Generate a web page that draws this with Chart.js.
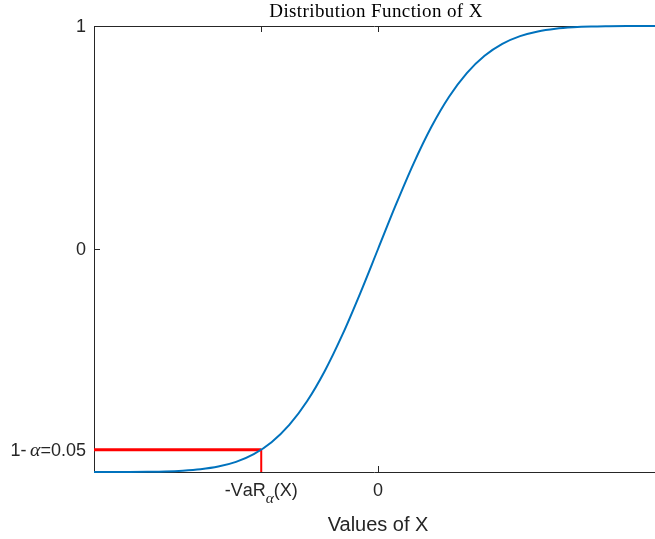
<!DOCTYPE html>
<html>
<head>
<meta charset="utf-8">
<script src="https://cdn.jsdelivr.net/npm/chart.js@4.4.1/dist/chart.umd.min.js"></script>
<style>
html,body{margin:0;padding:0;background:#fff;}
#wrap{width:655px;height:539px;}
</style>
</head>
<body>
<div id="wrap"><canvas id="c" width="655" height="539"></canvas></div>
<script>
// ---- data ----
const xValues = [-4,-3.75,-3.5,-3.25,-3,-2.75,-2.5,-2.25,-2,-1.75,-1.5,-1.25,-1,-0.75,-0.5,-0.25,0,0.25,0.5,0.75,1,1.25,1.5,1.75,2,2.25,2.5,2.75,3,3.25,3.5,3.75,4];
const cdfValues = [0.00003,0.0001,0.0002,0.0006,0.0013,0.003,0.0062,0.0122,0.0228,0.0401,0.0668,0.1056,0.1587,0.2266,0.3085,0.4013,0.5,0.5987,0.6915,0.7734,0.8413,0.8944,0.9332,0.9599,0.9772,0.9878,0.9938,0.997,0.9987,0.9994,0.9998,0.9999,1.0];
const alphaLevel = 0.05;
const varX = -1.645;
const yTickValues = [0.05, 0.5, 1];
const yTickLabels = ['1-α=0.05', '0', '1'];
const xTickValues = [varX, 0];
const xTickLabels = ['-VaR_α(X)', '0'];
const titleText = 'Distribution Function of X';
const xAxisTitle = 'Values of X';

const curve = xValues.map((x, i) => ({x: x, y: cdfValues[i]}));
const redH = [{x: xValues[0], y: alphaLevel}, {x: varX, y: alphaLevel}];
const redV = [{x: varX, y: alphaLevel}, {x: varX, y: 0}];

const AX = '#262626';
const SANS = '"Liberation Sans", Arial, Helvetica, sans-serif';
const SERIF = '"Liberation Serif", "DejaVu Serif", serif';

function segments(text, size) {
  const segs = [];
  for (let i = 0; i < text.length; i++) {
    let ch = text[i];
    let sub = false;
    if (ch === '_' && i + 1 < text.length) { sub = true; i++; ch = text[i]; }
    const greek = /[α-ω]/.test(ch);
    let s = sub ? size * 0.78 : size;
    if (greek) s *= 1.1;
    const font = greek ? ('italic ' + s + 'px ' + SERIF) : (s + 'px ' + SANS);
    segs.push({t: ch, font: font, dy: sub ? size * 0.45 : 0, pad: (greek && !sub) ? size * 0.2 : 0});
  }
  return segs;
}
function drawRich(ctx, text, x, y, align, size) {
  const segs = segments(text, size);
  let w = 0;
  segs.forEach(s => { ctx.font = s.font; s.w = ctx.measureText(s.t).width + s.pad; w += s.w; });
  let cx = align === 'right' ? x - w : (align === 'center' ? x - w / 2 : x);
  ctx.textAlign = 'left';
  ctx.textBaseline = 'middle';
  segs.forEach(s => { ctx.font = s.font; ctx.fillText(s.t, cx + s.pad, y + s.dy); cx += s.w; });
}

const axesPlugin = {
  id: 'matlabAxes',
  beforeDatasetsDraw(chart) {
    const ctx = chart.ctx, a = chart.chartArea;
    const xs = chart.scales.x, ys = chart.scales.y;
    ctx.save();
    ctx.strokeStyle = AX;
    ctx.lineWidth = 1;
    ctx.beginPath();
    ctx.moveTo(a.left + 0.5, a.top); ctx.lineTo(a.left + 0.5, a.bottom);
    ctx.moveTo(a.left, a.bottom + 0.5); ctx.lineTo(a.right, a.bottom + 0.5);
    ctx.moveTo(a.left, a.top + 0.5); ctx.lineTo(a.right, a.top + 0.5);
    yTickValues.forEach(v => {
      const py = Math.round(ys.getPixelForValue(v)) + 0.5;
      ctx.moveTo(a.left, py); ctx.lineTo(a.left + 6, py);
    });
    xTickValues.forEach(v => {
      const px = Math.round(xs.getPixelForValue(v)) + 0.5;
      ctx.moveTo(px, a.bottom); ctx.lineTo(px, a.bottom - 6);
      ctx.moveTo(px, a.top); ctx.lineTo(px, a.top + 6);
    });
    ctx.stroke();
    ctx.restore();
  },
  afterDraw(chart) {
    const ctx = chart.ctx, a = chart.chartArea;
    const xs = chart.scales.x, ys = chart.scales.y;
    ctx.save();
    ctx.fillStyle = AX;
    yTickValues.forEach((v, i) => {
      drawRich(ctx, yTickLabels[i], a.left - 8, ys.getPixelForValue(v) + 1, 'right', 18);
    });
    xTickValues.forEach((v, i) => {
      drawRich(ctx, xTickLabels[i], xs.getPixelForValue(v), a.bottom + 19, 'center', 18);
    });
    const cx = xs.getPixelForValue(0);
    ctx.font = '20px ' + SANS;
    ctx.textAlign = 'center';
    ctx.textBaseline = 'alphabetic';
    ctx.fillText(xAxisTitle, cx, 531);
    ctx.fillStyle = '#000';
    ctx.font = '19px ' + SERIF;
    try { ctx.letterSpacing = '0.4px'; } catch (e) {}
    ctx.fillText(titleText, cx - 2, 17);
    ctx.restore();
  }
};

new Chart(document.getElementById('c'), {
  type: 'line',
  data: {
    datasets: [
      {data: redH, borderColor: '#ff0000', borderWidth: 3, pointRadius: 0, clip: false, order: 1},
      {data: redV, borderColor: '#ff0000', borderWidth: 2, pointRadius: 0, clip: false, order: 1},
      {data: curve, borderColor: '#0072bd', borderWidth: 2, pointRadius: 0, cubicInterpolationMode: 'monotone', clip: false, order: 0}
    ]
  },
  options: {
    responsive: false,
    animation: false,
    layout: {padding: {left: 94, top: 26, right: 0, bottom: 67}},
    plugins: {legend: {display: false}, tooltip: {enabled: false}, title: {display: false}},
    scales: {
      x: {type: 'linear', min: -4, max: 3.9, display: false},
      y: {type: 'linear', min: 0, max: 1, display: false}
    }
  },
  plugins: [axesPlugin]
});
</script>
</body>
</html>
